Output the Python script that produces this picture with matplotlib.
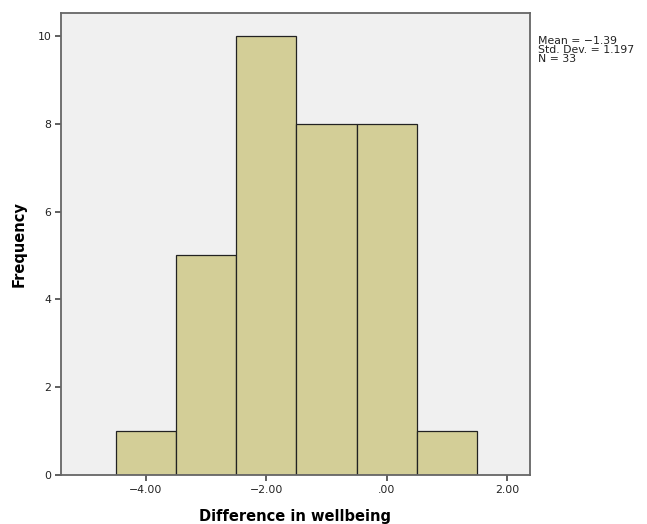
import numpy as np
import matplotlib.pyplot as plt

# histogram of the difference in wellbeing
bin_edges = [-4.5, -3.5, -2.5, -1.5, -0.5, 0.5, 1.5]
counts = [1, 5, 10, 8, 8, 1]
xticks = [-4.0, -2.0, 0.0, 2.0]
xtick_labels = ["\u22124.00", "\u22122.00", ".00", "2.00"]
yticks = [0, 2, 4, 6, 8, 10]
stats_text = "Mean = \u22121.39\nStd. Dev. = 1.197\nN = 33"

fig = plt.figure(figsize=(6.47, 5.24), dpi=100)
ax = fig.add_axes([0.0943, 0.0935, 0.7247, 0.8815])
ax.set_facecolor("#f0f0f0")

widths = np.diff(bin_edges)
ax.bar(bin_edges[:-1], counts, width=widths, align="edge",
       color="#d3ce97", edgecolor="#222222", linewidth=0.9, zorder=2)

ax.set_xlim(-5.41, 2.38)
ax.set_ylim(0, 10.52)
ax.set_xticks(xticks)
ax.set_xticklabels(xtick_labels)
ax.set_yticks(yticks)
ax.tick_params(axis="both", labelsize=7.8, length=4, width=1.2,
               colors="#444444", labelcolor="#222222", pad=3)

for side in ["left", "bottom", "top", "right"]:
    ax.spines[side].set_color("#666666")
    ax.spines[side].set_linewidth(1.3)

ax.set_xlabel("Difference in wellbeing", fontsize=10.5, fontweight="bold", labelpad=10)
ax.set_ylabel("Frequency", fontsize=10.5, fontweight="bold", labelpad=8)

fig.text(0.832, 0.932, stats_text, fontsize=7.8, va="top", ha="left",
         linespacing=0.9, color="#222222")

fig.savefig("out.png", dpi=100)
